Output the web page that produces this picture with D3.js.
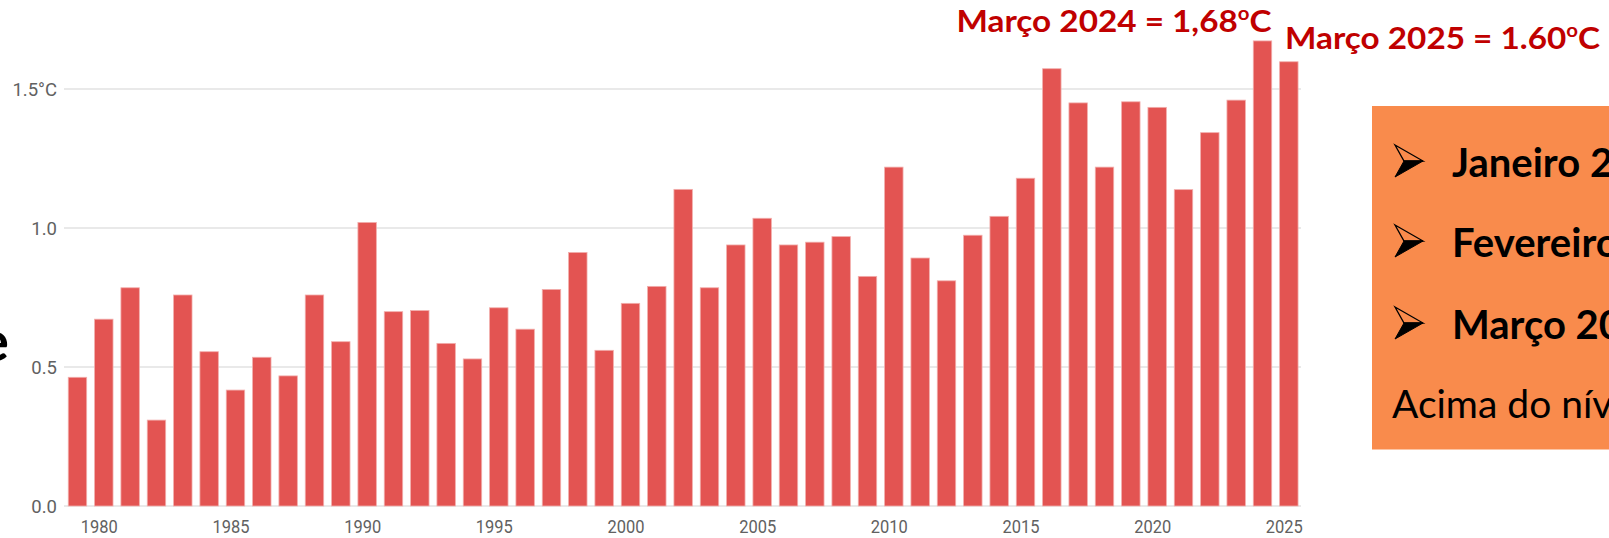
<!DOCTYPE html>
<html>
<head>
<meta charset="utf-8">
<script src="https://cdn.jsdelivr.net/npm/d3@7"></script>
<style>
  html, body { margin: 0; padding: 0; background: #ffffff; overflow: hidden; }
  svg { display: block; }
</style>
</head>
<body>
<svg id="chart" width="1609" height="538"></svg>
<script>
// ---- data ----
const years = [1979,1980,1981,1982,1983,1984,1985,1986,1987,1988,1989,1990,
  1991,1992,1993,1994,1995,1996,1997,1998,1999,2000,
  2001,2002,2003,2004,2005,2006,2007,2008,2009,2010,
  2011,2012,2013,2014,2015,2016,2017,2018,2019,2020,
  2021,2022,2023,2024,2025];
const anomalies = [0.463,0.672,0.785,0.309,0.759,0.555,0.417,0.535,0.468,0.759,0.591,1.020,
  0.699,0.703,0.585,0.529,0.713,0.636,0.779,0.912,0.560,0.729,
  0.790,1.139,0.785,0.939,1.035,0.939,0.949,0.969,0.826,1.219,
  0.892,0.810,0.974,1.042,1.179,1.573,1.450,1.219,1.454,1.434,
  1.138,1.343,1.460,1.673,1.598];
const xTickYears = [1980,1985,1990,1995,2000,2005,2010,2015,2020,2025];
const yTicks = [0, 0.5, 1.0, 1.5];
const yTickLabels = ["0.0", "0.5", "1.0", "1.5°C"];
const annotations = [
  {year: 2024, main: "Março 2024 = 1,68", sup: "o", unit: "C"},
  {year: 2025, main: "Março 2025 = 1.60", sup: "o", unit: "C"}
];
const boxBullets = ["Janeiro 2025", "Fevereiro 2025", "Março 2025"];
const boxFooter = "Acima do nível pré-industrial";
const leftFragment = "e";

// ---- drawing ----
const svg = d3.select("#chart");
svg.append("rect").attr("width", 1609).attr("height", 538).attr("fill", "#ffffff");

const x = d3.scaleBand().domain(years).range([64.3, 1302]).paddingInner(0.3).paddingOuter(0.15);
const y = d3.scaleLinear().domain([0, 1.5]).range([506, 89]);

// gridlines
svg.append("g").selectAll("line").data(yTicks).join("line")
  .attr("x1", 64).attr("x2", 1301)
  .attr("y1", d => y(d)).attr("y2", d => y(d))
  .attr("stroke", "#e9e9e9").attr("stroke-width", 2);

// y axis labels
const yAxis = d3.axisLeft(y).tickValues(yTicks).tickSize(0).tickPadding(0)
  .tickFormat((d, i) => yTickLabels[i]);
const gy = svg.append("g").attr("transform", "translate(57,0)").call(yAxis);
gy.select(".domain").remove();
gy.selectAll("text")
  .attr("font-family", "Roboto, sans-serif").attr("font-size", 18.5)
  .attr("fill", "#616161").attr("dy", "0.36em").attr("x", 0);

// bars
svg.append("g").selectAll("rect").data(years).join("rect")
  .attr("x", d => x(d))
  .attr("width", x.bandwidth())
  .attr("y", (d, i) => y(anomalies[i]))
  .attr("height", (d, i) => y(0) - y(anomalies[i]))
  .attr("fill", "#e35452")
  .attr("stroke", "#f2aeac").attr("stroke-width", 0.8);

// x axis labels
const xAxis = d3.axisBottom(x).tickValues(xTickYears).tickSize(0).tickPadding(0);
const gx = svg.append("g").attr("transform", "translate(-4.5,0)").call(xAxis);
gx.select(".domain").remove();
gx.selectAll("text")
  .attr("font-family", "Roboto, sans-serif").attr("font-size", 18.5)
  .attr("fill", "#616161").attr("y", 533).attr("dy", 0)
  .attr("textLength", 37).attr("lengthAdjust", "spacingAndGlyphs");

// annotations
const annPos = {2024: {x: 956.5, y: 31.7}, 2025: {x: 1285, y: 49.3}};
annotations.forEach(a => {
  const p = annPos[a.year];
  const t = svg.append("text")
    .attr("x", p.x).attr("y", p.y)
    .attr("font-family", "Lato, sans-serif").attr("font-weight", "bold")
    .attr("font-size", 31).attr("fill", "#c00000")
    .attr("textLength", 315).attr("lengthAdjust", "spacingAndGlyphs");
  t.append("tspan").text(a.main);
  t.append("tspan").text(a.sup).attr("font-size", 19).attr("dy", -12);
  t.append("tspan").text(a.unit).attr("dy", 12);
});

// orange box
svg.append("rect").attr("x", 1372).attr("y", 106).attr("width", 260).attr("height", 343.5)
  .attr("fill", "#f98b4c");
const bulletBase = [177, 257, 339];
boxBullets.forEach((b, i) => {
  const cx = 1395, cy = bulletBase[i] - 16;
  // arrowhead bullet: outlined upper half, filled lower half
  svg.append("path")
    .attr("d", `M${cx},${cy - 16} L${cx + 28},${cy} L${cx + 9},${cy} Z`)
    .attr("fill", "none").attr("stroke", "#000").attr("stroke-width", 1.3)
    .attr("stroke-linejoin", "miter");
  svg.append("path")
    .attr("d", `M${cx + 9},${cy} L${cx + 28},${cy} L${cx},${cy + 16} Z`)
    .attr("fill", "#000").attr("stroke", "#000").attr("stroke-width", 1);
  svg.append("text").attr("x", 1452).attr("y", bulletBase[i])
    .attr("font-family", "Lato, sans-serif").attr("font-weight", "bold")
    .attr("font-size", 40).attr("fill", "#000").text(b);
});
svg.append("text").attr("x", 1392).attr("y", 418.3)
  .attr("font-family", "Lato, sans-serif").attr("font-size", 39).attr("fill", "#000")
  .text(boxFooter);

// left slide fragment
svg.append("text").attr("x", 9).attr("y", 361).attr("text-anchor", "end")
  .attr("font-family", "Lato, sans-serif").attr("font-weight", "bold")
  .attr("font-size", 56).attr("fill", "#000").text(leftFragment);
</script>
</body>
</html>
